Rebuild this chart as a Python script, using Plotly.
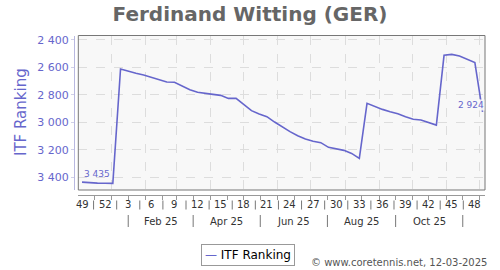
import plotly.graph_objects as go
import pandas as pd

# ---------------- data ----------------
dates = pd.date_range("2024-12-05", periods=53, freq="7D")
ranking = [3435, 3440, 3442, 3443, 3444,
           2612, 2629, 2644, 2656, 2673, 2687, 2707, 2709, 2734, 2763, 2782, 2792, 2797,
           2804, 2826, 2826, 2869, 2915, 2940, 2959, 2998, 3034, 3068, 3097, 3121, 3138,
           3148, 3182, 3192, 3204, 3226, 3262,
           2862, 2886, 2906, 2923, 2937, 2959, 2978, 2983, 3000, 3020,
           2513, 2506, 2518, 2542, 2566, 2924]
week_labels = ["49", "52", "3", "6", "9", "12", "15", "18", "21", "24", "27",
               "30", "33", "36", "39", "42", "45", "48"]
month_labels = ["Feb 25", "Apr 25", "Jun 25", "Aug 25", "Oct 25"]
y_ticks = [2400, 2600, 2800, 3000, 3200, 3400]

W, H = 500, 270
def px_x(x):
    return x / W
def px_y(y):
    return 1 - y / H

BLUE = "#6666cc"
FONT = "DejaVu Sans"

fig = go.Figure()
fig.add_trace(go.Scatter(x=dates, y=ranking, mode="lines",
                         line=dict(color=BLUE, width=1.6),
                         name="ITF Ranking", showlegend=False, hoverinfo="skip"))

# month-start grid ticks and mid-month minor ticks
month_starts = pd.date_range("2024-12-01", "2025-12-01", freq="MS")
mid_months = [d + pd.Timedelta(days=15) for d in month_starts]

annotations = []
shapes = []

# week labels row
week_idx = list(range(0, 52, 3))
for lab, k in zip(week_labels, week_idx):
    annotations.append(dict(x=dates[k], y=px_y(204.5), xref="x", yref="paper",
                            text=lab, showarrow=False, xanchor="center", yanchor="middle",
                            font=dict(family=FONT, size=10, color="#333333")))
for a, b in zip(week_idx[:-1], week_idx[1:]):
    mid = dates[a + 1] + (dates[a + 2] - dates[a + 1]) / 2
    shapes.append(dict(type="line", xref="x", yref="paper", x0=mid, x1=mid,
                       y0=px_y(200.5), y1=px_y(209.5), line=dict(color="#777777", width=1)))

# month labels row
seps = [pd.Timestamp(f"2025-{m:02d}-16") for m in (1, 3, 5, 7, 9, 11)]
for s in seps:
    shapes.append(dict(type="line", xref="x", yref="paper", x0=s, x1=s,
                       y0=px_y(215), y1=px_y(227), line=dict(color="#777777", width=1)))
for lab, a, b in zip(month_labels, seps[:-1], seps[1:]):
    annotations.append(dict(x=a + (b - a) / 2, y=px_y(221), xref="x", yref="paper",
                            text=lab, showarrow=False, xanchor="center", yanchor="middle",
                            font=dict(family=FONT, size=10, color="#333333")))

# plot border
shapes.append(dict(type="rect", xref="x domain", yref="y domain", x0=0, x1=1, y0=0, y1=1,
                   line=dict(color="#777777", width=1)))

def fmt(v):
    return f"{v:,}".replace(",", " ")

annotations.append(dict(x=dates[0], y=ranking[0], xref="x", yref="y", text=fmt(ranking[0]),
                        showarrow=False, xanchor="left", yanchor="bottom", yshift=1,
                        font=dict(family=FONT, size=9, color=BLUE)))
annotations.append(dict(x=dates[-1], y=ranking[-1], xref="x", yref="y", text=fmt(ranking[-1]),
                        showarrow=False, xanchor="right", yanchor="bottom", yshift=1, xshift=2,
                        bgcolor="rgba(248,248,248,0.9)", borderpad=0,
                        font=dict(family=FONT, size=9, color=BLUE)))

# y-axis title
annotations.append(dict(x=px_x(21), y=px_y(112), xref="paper", yref="paper",
                        text="ITF Ranking", textangle=-90, showarrow=False,
                        xanchor="center", yanchor="middle",
                        font=dict(family=FONT, size=15, color=BLUE)))

# legend box
annotations.append(dict(x=px_x(248), y=px_y(254.7), xref="paper", yref="paper",
                        text=f"<span style='color:{BLUE}'>—</span> ITF Ranking",
                        showarrow=False, xanchor="center", yanchor="middle",
                        bordercolor="#999999", borderwidth=1, borderpad=3, bgcolor="white",
                        font=dict(family=FONT, size=12, color="#000000")))

# copyright
annotations.append(dict(x=px_x(489), y=px_y(262), xref="paper", yref="paper",
                        text="© www.coretennis.net, 12-03-2025", showarrow=False,
                        xanchor="right", yanchor="middle",
                        font=dict(family=FONT, size=10, color="#555555")))

fig.update_layout(
    width=W, height=H,
    margin=dict(l=0, r=0, t=0, b=0),
    paper_bgcolor="white",
    plot_bgcolor="#f8f8f8",
    separators=". ",
    showlegend=False,
    title=dict(text="Ferdinand Witting (GER)", x=0.5, y=px_y(14), xanchor="center",
               yanchor="middle", xref="paper", yref="container",
               font=dict(family=FONT, size=20, color="#666666", weight="bold")),
    xaxis=dict(
        type="date",
        domain=[px_x(78.3), px_x(485)],
        range=["2024-12-01 15:00", "2025-12-06 05:00"],
        anchor="free", position=px_y(195),
        showline=True, linecolor="#999999", linewidth=1,
        tick0="2024-12-01", dtick="M1",
        showgrid=True, gridcolor="#dddddd", griddash="dash", gridwidth=1,
        ticks="outside", ticklen=4, tickcolor="#999999",
        showticklabels=False,
        minor=dict(tickvals=mid_months, ticks="outside", ticklen=4, tickcolor="#999999",
                   showgrid=False),
        zeroline=False, automargin=False, fixedrange=True,
    ),
    yaxis=dict(
        domain=[px_y(190), px_y(35.5)],
        range=[3492, 2369],
        anchor="free", position=px_x(74),
        showline=True, linecolor="#b8b8e0", linewidth=1,
        tickvals=y_ticks, separatethousands=True,
        tickfont=dict(family=FONT, size=11, color=BLUE),
        ticks="outside", ticklen=3, tickcolor="#d0d0e8",
        showgrid=True, gridcolor="#dddddd", griddash="dash", gridwidth=1,
        zeroline=False, automargin=False, fixedrange=True,
    ),
    annotations=annotations,
    shapes=shapes,
)

fig.write_html("out.html")
